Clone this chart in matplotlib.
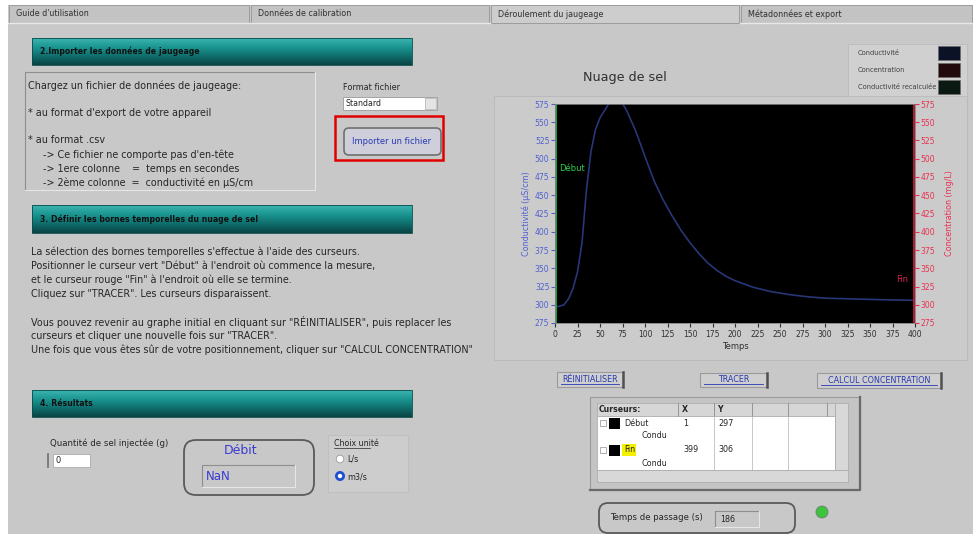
import numpy as np
import matplotlib
matplotlib.use('Agg')
from matplotlib import pyplot as plt
from matplotlib.patches import Rectangle, FancyBboxPatch, Circle

# donnees du graphe "Nuage de sel"
temps = [0, 5, 10, 15, 20, 25, 30, 35, 40, 45, 50, 55, 60, 65, 70, 75, 80, 90,
         100, 110, 120, 130, 140, 150, 160, 170, 180, 190, 200, 220, 240, 260,
         280, 300, 330, 360, 400]
conductivite = [297, 298, 300, 308, 322, 345, 385, 458, 510, 540, 556, 566, 576,
                581, 580, 576, 565, 537, 503, 470, 444, 422, 402, 385, 370, 357,
                347, 339, 333, 324, 318, 314, 311, 309, 308, 307, 306]
curseur_debut = 1
curseur_fin = 399
y_ticks = list(range(275, 576, 25))
x_ticks = list(range(0, 401, 25))

onglets = ["Guide d'utilisation", "Données de calibration",
           "Déroulement du jaugeage", "Métadonnées et export"]
legende = ["Conductivité", "Concentration", "Conductivité recalculée"]
cur_noms = ["Début", "Fin"]
cur_x = ["1", "399"]
cur_y = ["297", "306"]

plt.rcParams['font.family'] = ['DejaVu Sans']

W, H = 973, 534
fig = plt.figure(figsize=(W / 100, H / 100), dpi=100)
fig.patch.set_facecolor('white')
bg = fig.add_axes([0, 0, 1, 1])
bg.set_axis_off()

GRIS = '#c8c8c8'
TXT = '#262626'
BLEU = '#3a3ad0'


def rect(x, y, w, h, fc='none', ec='none', lw=0.8, z=1):
    bg.add_patch(Rectangle((x, y), w, h, facecolor=fc, edgecolor=ec, lw=lw, zorder=z))


def txt(x, y, s, size=6.5, color=TXT, **kw):
    bg.text(x, y, s, fontsize=size, color=color, va='center', zorder=5, **kw)


def bandeau(x, y, w, h, titre):
    grad = np.linspace(0, 1, 30).reshape(-1, 1)
    cmap = matplotlib.colors.LinearSegmentedColormap.from_list(
        'teal', ['#3cb3ae', '#1a9591', '#0f6f6d', '#0a4545'])
    bg.imshow(grad, extent=(x, x + w, y + h, y), cmap=cmap, aspect='auto', zorder=2)
    rect(x, y, w, h, ec='#0b4a4a', lw=0.6, z=3)
    txt(x + 8, y + h / 2, titre, size=5.6, color='#101010', fontweight='bold')


def enfonce(x, y, w, h, fc='none'):
    rect(x, y, w, h, fc=fc, z=1)
    bg.plot([x, x, x + w], [y + h, y, y], color='#8e8e8e', lw=0.8, zorder=2)
    bg.plot([x, x + w, x + w], [y + h, y + h, y], color='#e6e6e6', lw=0.8, zorder=2)


def bouton(x, y, w, h, s):
    rect(x, y, w, h, fc='#cfcfcf', ec='#9a9a9a', lw=0.8, z=2)
    bg.plot([x + w, x + w], [y, y + h], color='#505050', lw=1.8, zorder=3)
    txt(x + w / 2, y + h / 2, s, size=5.8, color='#2838b0', ha='center')
    bg.plot([x + 4, x + w - 4], [y + h / 2 + 4, y + h / 2 + 4], color='#2838b0',
            lw=0.6, zorder=4)


# fond et onglets
rect(8, 5, W - 8, H - 5, fc=GRIS, z=0)
ong_x = [8, 250, 490, 740, 973]
for i, nom in enumerate(onglets):
    x0, x1 = ong_x[i], ong_x[i + 1]
    fc = '#cdcdcd' if i == 2 else '#c3c3c3'
    rect(x0 + 1, 5, x1 - x0 - 2, 18, fc=fc, ec='#9c9c9c', lw=0.7, z=1)
    txt(x0 + 8, 14, nom, size=5.8, color='#303030')
bg.plot([8, 490], [23, 23], color='#e8e8e8', lw=1, zorder=2)
bg.plot([740, 973], [23, 23], color='#e8e8e8', lw=1, zorder=2)

# section 2 : importer
bandeau(32, 38, 380, 27, "2.Importer les données de jaugeage")
enfonce(25, 72, 290, 118)
lignes1 = [(28, 86, "Chargez un fichier de données de jaugeage:"),
           (28, 113, "* au format d'export de votre appareil"),
           (28, 140, "* au format .csv"),
           (43, 155, "-> Ce fichier ne comporte pas d'en-tête"),
           (43, 169, "-> 1ere colonne    =  temps en secondes"),
           (43, 183, "-> 2ème colonne  =  conductivité en µS/cm")]
for x, y, s in lignes1:
    txt(x, y, s, size=6.9)
txt(343, 88, "Format fichier", size=5.9)
rect(343, 97, 94, 13, fc='white', ec='#9a9a9a', lw=0.6, z=2)
rect(425, 98, 11, 11, fc='#e4e4e4', ec='#b0b0b0', lw=0.5, z=3)
txt(346, 103.5, "Standard", size=5.7)
bg.add_patch(FancyBboxPatch((344, 128), 97, 27, boxstyle="round,pad=0,rounding_size=5",
                            facecolor='#cfcfdc', edgecolor='#707070', lw=1.2, zorder=2))
txt(392, 141, "Importer un fichier", size=6, color='#2838b0', ha='center')
rect(335, 116, 108, 44, ec='#e00000', lw=1.8, z=4)

# section 3 : bornes
bandeau(32, 205, 380, 28, "3. Définir les bornes temporelles du nuage de sel")
lignes3 = [(252, "La sélection des bornes temporelles s'effectue à l'aide des curseurs."),
           (266, "Positionner le curseur vert \"Début\" à l'endroit où commence la mesure,"),
           (280, "et le curseur rouge \"Fin\" à l'endroit où elle se termine."),
           (294, "Cliquez sur \"TRACER\". Les curseurs disparaissent."),
           (322, "Vous pouvez revenir au graphe initial en cliquant sur \"RÉINITIALISER\", puis replacer les"),
           (336, "curseurs et cliquer une nouvelle fois sur \"TRACER\"."),
           (350, "Une fois que vous êtes sûr de votre positionnement, cliquer sur \"CALCUL CONCENTRATION\"")]
for y, s in lignes3:
    txt(31, y, s, size=6.9)

# section 4 : resultats
bandeau(32, 390, 380, 27, "4. Résultats")
txt(50, 443, "Quantité de sel injectée (g)", size=6.2)
rect(53, 454, 37, 13, fc='white', ec='#a0a0a0', lw=0.5, z=2)
txt(56, 460.5, "0", size=6)
bg.plot([48, 48], [454, 467], color='#707070', lw=1.2, zorder=2)
bg.add_patch(FancyBboxPatch((184, 440), 130, 55, boxstyle="round,pad=0,rounding_size=12",
                            facecolor=GRIS, edgecolor='#5a5a5a', lw=1.3, zorder=2))
txt(241, 451, "Débit", size=9, color=BLEU, ha='center')
enfonce(202, 465, 93, 22, fc='#d6d6d6')
txt(206, 476, "NaN", size=8.5, color=BLEU)
rect(328, 435, 80, 57, fc='#cdcdcd', ec='#bdbdbd', lw=0.6, z=1)
txt(334, 444, "Choix unité", size=5.7)
bg.plot([334, 370], [448, 448], color=TXT, lw=0.5, zorder=3)
bg.add_patch(Circle((340, 459), 3.8, facecolor='white', edgecolor='#9a9a9a', lw=0.6, zorder=3))
txt(347, 459, "L/s", size=5.8)
bg.add_patch(Circle((340, 476), 3.6, facecolor='white', edgecolor='#1f4fd0', lw=2.0, zorder=3))
txt(347, 477, "m3/s", size=5.8)

# cadre du graphe et legende
rect(494, 96, 473, 264, fc='#cbcbcb', ec='#b8b8b8', lw=0.6, z=0.5)
txt(625, 78, "Nuage de sel", size=9.2, color='#303030', ha='center')
rect(848, 44, 119, 52, fc='#d0d0d0', ec='#bcbcbc', lw=0.6, z=1)
coul_leg = ['#0b1226', '#220a0c', '#0a1a12']
for i, nom in enumerate(legende):
    y = 53 + i * 17
    txt(858, y, nom, size=4.8, color='#404040')
    rect(938, y - 7, 22, 14, fc=coul_leg[i], ec='#6a6a6a', lw=0.5, z=2)

# boutons
bouton(557, 372, 66, 15, "RÉINITIALISER")
bouton(700, 373, 67, 14, "TRACER")
bouton(817, 373, 124, 15, "CALCUL CONCENTRATION")

# tableau des curseurs
rect(590, 397, 270, 93, fc='#c4c4c4', ec='#9a9a9a', lw=0.8, z=1)
bg.plot([860, 860, 590], [397, 490, 490], color='#6a6a6a', lw=1.6, zorder=2)
rect(597, 403, 238, 13, fc='#d6d6d6', ec='#a8a8a8', lw=0.5, z=2)
rect(597, 416, 238, 54, fc='white', ec='#a8a8a8', lw=0.5, z=2)
txt(599, 409.5, "Curseurs:", size=5.6, fontweight='bold')
txt(682, 409.5, "X", size=5.6, fontweight='bold')
txt(717, 409.5, "Y", size=5.6, fontweight='bold')
for xc in [678, 714, 752, 788, 827]:
    bg.plot([xc, xc], [403, 416], color='#8a8a8a', lw=0.6, zorder=3)
for xc in [714, 752, 788]:
    bg.plot([xc, xc], [416, 470], color='#b0b0b0', lw=0.5, zorder=3)
for i, nom in enumerate(cur_noms):
    y = 423 + i * 27
    rect(600, y - 3, 6, 6, fc='white', ec='#909090', lw=0.5, z=3)
    rect(609, y - 5.5, 11, 11, fc='black', z=3)
    if nom == "Fin":
        rect(622, y - 6, 14, 12, fc='#f4f000', z=3)
    txt(624, y, nom, size=5.8)
    txt(642, y + 13, "Condu", size=5.8)
    txt(683, y, cur_x[i], size=5.8)
    txt(718, y, cur_y[i], size=5.8)
rect(835, 403, 13, 67, fc='#d8d8d8', ec='#a8a8a8', lw=0.5, z=2)
rect(597, 470, 251, 12, fc='#d8d8d8', ec='#a8a8a8', lw=0.5, z=2)

# temps de passage
bg.add_patch(FancyBboxPatch((599, 503), 196, 30, boxstyle="round,pad=0,rounding_size=9",
                            facecolor=GRIS, edgecolor='#5a5a5a', lw=1.3, zorder=2))
txt(610, 518, "Temps de passage (s)", size=6.1)
enfonce(715, 511, 44, 16, fc='#d8d8d8')
txt(720, 519, "186", size=5.8)
bg.add_patch(Circle((822, 512), 6, facecolor='#3cc43c', edgecolor='#7a7a7a', lw=0.6, zorder=3))

bg.set_xlim(0, W)
bg.set_ylim(H, 0)

# graphe
ax = fig.add_axes([555 / W, 1 - 323 / H, 360 / W, 219 / H])
ax.set_facecolor('black')
ax.plot(temps, conductivite, color='#283678', lw=1.2)
ax.axvline(curseur_debut, color='#20c040', lw=1.2)
ax.axvline(curseur_fin, color='#d02040', lw=1.2)
ax.text(curseur_debut + 4, 486, "Début", color='#30d050', fontsize=6, va='center')
ax.text(curseur_fin - 20, 335, "Fin", color='#d02050', fontsize=6, va='center')
ax.set_xlim(0, 400)
ax.set_ylim(275, 575)
ax.set_xticks(x_ticks)
ax.set_yticks(y_ticks)
ax.tick_params(axis='x', labelsize=5.5, colors='#303030', length=3, pad=2)
ax.tick_params(axis='y', labelsize=5.5, colors='#5060d0', length=3, pad=1)
ax.set_xlabel("Temps", fontsize=6, color='#303030', labelpad=2)
ax.set_ylabel("Conductivité (µS/cm)", fontsize=5.8, color='#5060d0', labelpad=3)
for s in ax.spines.values():
    s.set_color('#808080')
    s.set_linewidth(0.6)

ax2 = ax.twinx()
ax2.set_ylim(275, 575)
ax2.set_yticks(y_ticks)
ax2.tick_params(axis='y', labelsize=5.5, colors='#e83050', length=3, pad=1)
ax2.set_ylabel("Concentration (mg/L)", fontsize=5.8, color='#e83050', labelpad=7)
for s in ax2.spines.values():
    s.set_visible(False)

fig.savefig('out.png', dpi=100, facecolor=fig.get_facecolor())
